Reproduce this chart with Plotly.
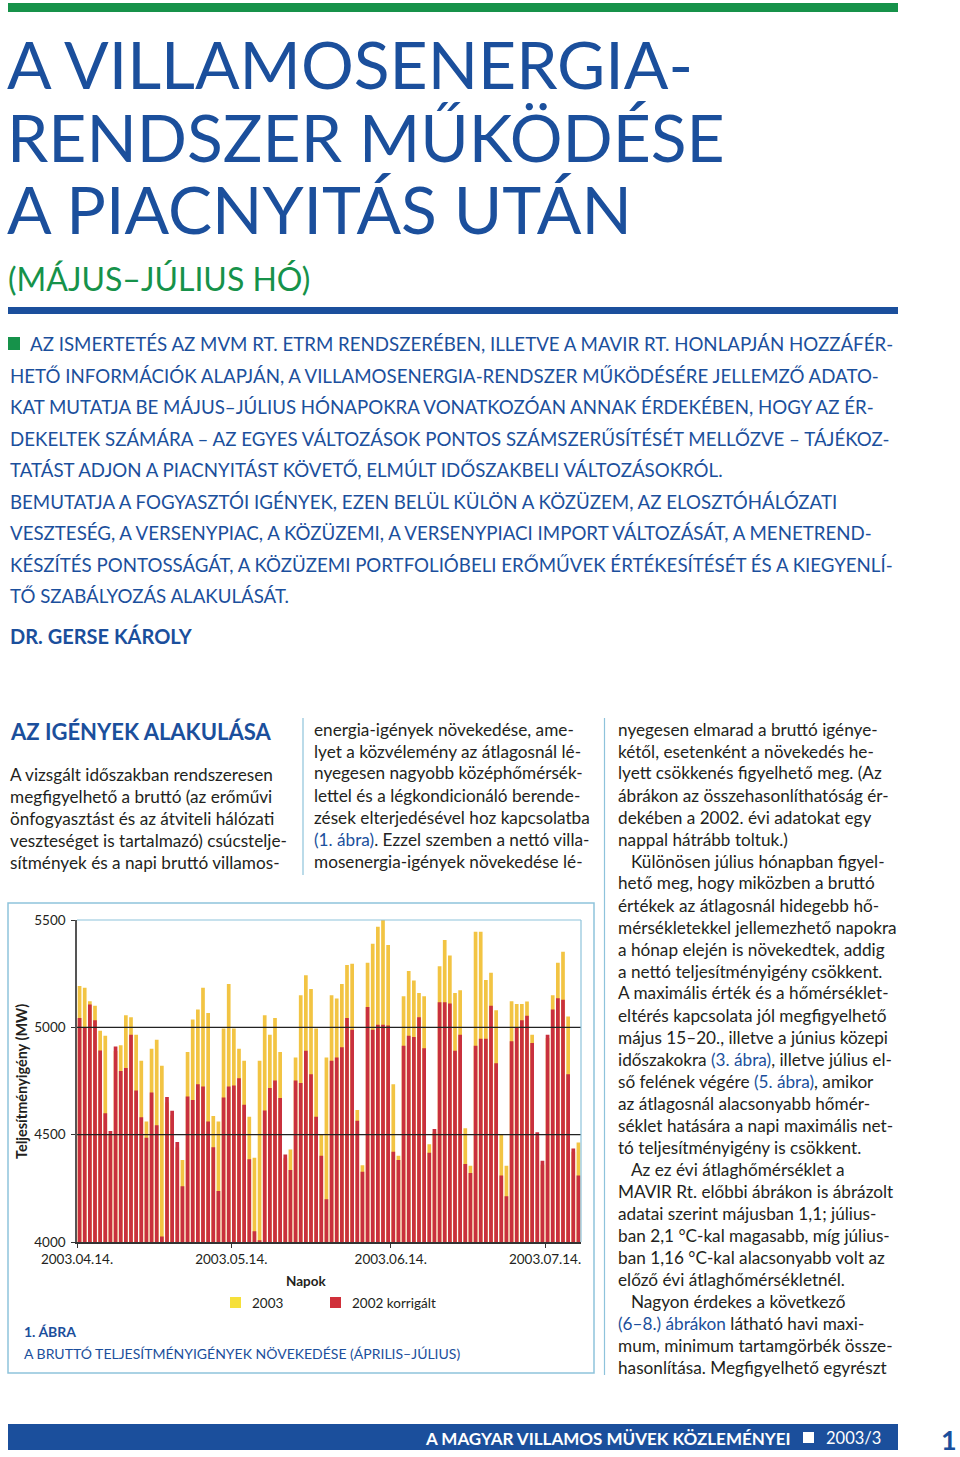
import pandas as pd
import plotly.graph_objects as go

# --- adatok (1. ábra) ---
kezdo_nap = "2003-04-14"
ev_2003 = [5192, 5184, 5121, 5101, 4984, 4961, 4500, 4890, 4917, 5056,
           5047, 4966, 4844, 4561, 4900, 4942, 4821, 4650, 4590, 4440,
           4382, 4885, 5036, 5083, 5184, 5067, 4587, 4561, 4994, 5202,
           4994, 4900, 4844, 4584, 4393, 4844, 5056, 4966, 5044, 4885,
           4390, 4431, 4860, 5150, 5243, 5179, 4994, 4498, 4860, 5150,
           5134, 5202, 5290, 5296, 4615, 4358, 5301, 5389, 5469, 5515,
           5383, 4735, 4402, 5145, 5262, 5218, 5160, 5145, 4455, 4510,
           5285, 5407, 5335, 5160, 5173, 4530, 4355, 5445, 5445, 5220,
           5254, 5079, 4498, 4355, 5121, 5109, 5109, 5120, 4966, 4490,
           4360, 4950, 5150, 5301, 5352, 5051, 4420, 4464]
ev_2002_korrigalt = [5044, 4997, 5106, 5033, 4892, 4600, 4517, 4911, 4797, 4810,
                     4966, 4706, 4581, 4486, 4696, 4544, 4026, 4676, 4611, 4466,
                     4260, 4678, 4662, 4735, 4724, 4561, 4441, 4237, 4673, 4724,
                     4729, 4763, 4639, 4386, 4050, 4008, 4612, 4717, 4752, 4671,
                     4408, 4335, 4752, 4741, 4891, 4782, 4584, 4402, 4199, 4844,
                     4860, 4907, 5044, 4989, 4565, 4327, 5095, 4989, 5012, 5012,
                     5008, 4421, 4382, 4914, 4961, 4955, 5047, 4903, 4416, 4526,
                     5117, 5117, 5111, 4891, 4966, 4363, 4322, 4914, 4947, 4947,
                     5101, 4833, 4310, 4213, 4935, 4997, 5033, 5054, 4927, 4511,
                     4378, 4966, 5083, 5135, 5129, 4782, 4436, 4310]
tick_datumok = ["2003-04-14", "2003-05-14", "2003-06-14", "2003-07-14"]
tick_cimkek = ["2003.04.14.", "2003.05.14.", "2003.06.14.", "2003.07.14."]
y_tickek = [4000, 4500, 5000, 5500]

W, H = 960, 1457
BLUE = "#1b4f9c"
GREEN = "#16924a"
TXT = "#231f20"
FRAME = "#8ec3db"
FONT = "Lato"
BODY = 17.2

napok = pd.date_range(kezdo_nap, periods=len(ev_2003)) + pd.Timedelta(hours=12)


def px(x):
    return x / W


def py(y):
    return 1 - y / H


annots = []


def txt(x, y, s, size, color=TXT, anchor="left", angle=0):
    annots.append(dict(x=px(x), y=py(y), xref="paper", yref="paper", text=s,
                       showarrow=False, xanchor=anchor, yanchor="middle",
                       textangle=angle,
                       font=dict(family=FONT, size=size, color=color)))


def blue(s):
    return f'<span style="color:{BLUE}">{s}</span>'


shapes = []


def rect(x0, y0, x1, y1, fill=None, line=None, lw=1.0):
    shapes.append(dict(type="rect", xref="paper", yref="paper",
                       x0=px(x0), x1=px(x1), y0=py(y0), y1=py(y1),
                       fillcolor=fill or "rgba(0,0,0,0)",
                       line=dict(color=line or "rgba(0,0,0,0)", width=lw if line else 0)))


def vline(x, y0, y1, color, lw=1.2):
    shapes.append(dict(type="line", xref="paper", yref="paper",
                       x0=px(x), x1=px(x), y0=py(y0), y1=py(y1),
                       line=dict(color=color, width=lw)))


# fejléc
rect(8, 3, 898, 12, fill=GREEN)
txt(5, 63, "A VILLAMOSENERGIA-", 66, BLUE)
txt(5, 136, "RENDSZER MŰKÖDÉSE", 66, BLUE)
txt(5, 209, "A PIACNYITÁS UTÁN", 66, BLUE)
txt(6, 278, "(MÁJUS–JÚLIUS HÓ)", 32, GREEN)
rect(8, 307, 898, 314, fill=BLUE)

# bevezető
rect(8, 337, 20, 350, fill=GREEN)
abstract = [
    "AZ ISMERTETÉS AZ MVM RT. ETRM RENDSZERÉBEN, ILLETVE A MAVIR RT. HONLAPJÁN HOZZÁFÉR-",
    "HETŐ INFORMÁCIÓK ALAPJÁN, A VILLAMOSENERGIA-RENDSZER MŰKÖDÉSÉRE JELLEMZŐ ADATO-",
    "KAT MUTATJA BE MÁJUS–JÚLIUS HÓNAPOKRA VONATKOZÓAN ANNAK ÉRDEKÉBEN, HOGY AZ ÉR-",
    "DEKELTEK SZÁMÁRA – AZ EGYES VÁLTOZÁSOK PONTOS SZÁMSZERŰSÍTÉSÉT MELLŐZVE – TÁJÉKOZ-",
    "TATÁST ADJON A PIACNYITÁST KÖVETŐ, ELMÚLT IDŐSZAKBELI VÁLTOZÁSOKRÓL.",
    "BEMUTATJA A FOGYASZTÓI IGÉNYEK, EZEN BELÜL KÜLÖN A KÖZÜZEM, AZ ELOSZTÓHÁLÓZATI",
    "VESZTESÉG, A VERSENYPIAC, A KÖZÜZEMI, A VERSENYPIACI IMPORT VÁLTOZÁSÁT, A MENETREND-",
    "KÉSZÍTÉS PONTOSSÁGÁT, A KÖZÜZEMI PORTFOLIÓBELI ERŐMŰVEK ÉRTÉKESÍTÉSÉT ÉS A KIEGYENLÍ-",
    "TŐ SZABÁLYOZÁS ALAKULÁSÁT.",
]
for i, line in enumerate(abstract):
    txt(28 if i == 0 else 8, 344 + i * 31.5, line, 18.7, BLUE)
txt(8, 636, "<b>DR. GERSE KÁROLY</b>", 20, BLUE)

# hasábok
txt(8, 731, "<b>AZ IGÉNYEK ALAKULÁSA</b>", 22, BLUE)
col1 = ["A vizsgált időszakban rendszeresen",
        "megfigyelhető a bruttó (az erőművi",
        "önfogyasztást és az átviteli hálózati",
        "veszteséget is tartalmazó) csúcstelje-",
        "sítmények és a napi bruttó villamos-"]
for i, line in enumerate(col1):
    txt(8, 774 + i * 22, line, BODY)

col2 = ["energia-igények növekedése, ame-",
        "lyet a közvélemény az átlagosnál lé-",
        "nyegesen nagyobb középhőmérsék-",
        "lettel és a légkondicionáló berende-",
        "zések elterjedésével hoz kapcsolatba",
        blue("(1. ábra)") + ". Ezzel szemben a nettó villa-",
        "mosenergia-igények növekedése lé-"]
for i, line in enumerate(col2):
    txt(312, 729 + i * 22, line, BODY)

col3 = ["nyegesen elmarad a bruttó igénye-",
        "kétől, esetenként a növekedés he-",
        "lyett csökkenés figyelhető meg. (Az",
        "ábrákon az összehasonlíthatóság ér-",
        "dekében a 2002. évi adatokat egy",
        "nappal hátrább toltuk.)",
        "\u2003Különösen július hónapban figyel-",
        "hető meg, hogy miközben a bruttó",
        "értékek az átlagosnál hidegebb hő-",
        "mérsékletekkel jellemezhető napokra",
        "a hónap elején is növekedtek, addig",
        "a nettó teljesítményigény csökkent.",
        "A maximális érték és a hőmérséklet-",
        "eltérés kapcsolata jól megfigyelhető",
        "május 15–20., illetve a június közepi",
        "időszakokra " + blue("(3. ábra)") + ", illetve július el-",
        "ső felének végére " + blue("(5. ábra)") + ", amikor",
        "az átlagosnál alacsonyabb hőmér-",
        "séklet hatására a napi maximális net-",
        "tó teljesítményigény is csökkent.",
        "\u2003Az ez évi átlaghőmérséklet a",
        "MAVIR Rt. előbbi ábrákon is ábrázolt",
        "adatai szerint májusban 1,1; július-",
        "ban 2,1 °C-kal magasabb, míg július-",
        "ban 1,16 °C-kal alacsonyabb volt az",
        "előző évi átlaghőmérsékletnél.",
        "\u2003Nagyon érdekes a következő",
        blue("(6–8.) ábrákon") + " látható havi maxi-",
        "mum, minimum tartamgörbék össze-",
        "hasonlítása. Megfigyelhető egyrészt"]
for i, line in enumerate(col3):
    txt(616, 729 + i * 22, line, BODY)

vline(604.5, 718, 1375, FRAME)
vline(303, 718, 875, FRAME)

# ábra kerete és feliratai
rect(8, 903, 594, 1373, line=FRAME, lw=1.5)
txt(21, 1082, "<b>Teljesítményigény (MW)</b>", 14.5, TXT, anchor="center", angle=-90)
txt(306, 1281, "<b>Napok</b>", 13.5, TXT, anchor="center")
rect(230, 1297, 241, 1308, fill="#f6e03a")
txt(250, 1303, "2003", 13.5)
rect(330, 1297, 341, 1308, fill="#d0303a")
txt(350, 1303, "2002 korrigált", 13.5)
txt(22, 1331, "<b>1. ÁBRA</b>", 14, BLUE)
txt(22, 1353, "A BRUTTÓ TELJESÍTMÉNYIGÉNYEK NÖVEKEDÉSE (ÁPRILIS–JÚLIUS)", 14, BLUE)

# lábléc
rect(8, 1424, 898, 1450, fill=BLUE)
txt(793, 1438, "<b>A MAGYAR VILLAMOS MÜVEK KÖZLEMÉNYEI</b>", 17, "white", anchor="right")
rect(803, 1432, 814, 1443, fill="white")
txt(824, 1438, "2003/3", 16.5, "white")
txt(949, 1439, "<b>1</b>", 27, BLUE, anchor="center")

fig = go.Figure()
fig.add_trace(go.Bar(x=napok, y=ev_2003, name="2003",
                     marker=dict(color="#f2c443", line=dict(width=0))))
fig.add_trace(go.Bar(x=napok, y=ev_2002_korrigalt, name="2002 korrigált",
                     marker=dict(color="#c9303e", line=dict(width=0))))

x0_px, x1_px = 77, 581
y_top, y_bot = 920, 1242

# rácsvonalak és a plot keret felső/jobb oldala
for v in (4500, 5000):
    shapes.append(dict(type="line", xref="x domain", yref="y", x0=0, x1=1,
                       y0=v, y1=v, line=dict(color="#222", width=1.3), layer="above"))
shapes.append(dict(type="line", xref="x domain", yref="y domain", x0=0, x1=1,
                   y0=1, y1=1, line=dict(color=FRAME, width=1.2), layer="above"))
shapes.append(dict(type="line", xref="x domain", yref="y domain", x0=1, x1=1,
                   y0=0, y1=1, line=dict(color=FRAME, width=1.2), layer="above"))

fig.update_layout(
    width=W, height=H,
    margin=dict(l=0, r=0, t=0, b=0, autoexpand=False),
    paper_bgcolor="white", plot_bgcolor="white",
    barmode="overlay", bargap=0.28,
    showlegend=False,
    font=dict(family=FONT, color=TXT),
    annotations=annots,
    shapes=shapes,
    xaxis=dict(domain=[px(x0_px), px(x1_px)], type="date", automargin=False,
               range=[kezdo_nap, napok[-1] + pd.Timedelta(hours=12)],
               tickvals=tick_datumok, ticktext=tick_cimkek,
               ticks="outside", ticklen=4, tickcolor="#333",
               showline=True, linecolor="#333", linewidth=1.5,
               showgrid=False, zeroline=False,
               tickfont=dict(family=FONT, size=13.5, color=TXT)),
    yaxis=dict(domain=[py(y_bot), py(y_top)], range=[4000, 5500], automargin=False,
               tickvals=y_tickek, ticks="outside", ticklen=4, tickcolor="#333",
               showline=True, linecolor="#555", linewidth=1.5,
               showgrid=False, zeroline=False, ticklabelstandoff=3,
               tickfont=dict(family=FONT, size=13.5, color=TXT)),
)

# a böngésző alapértelmezett 8 px-es body margója eltolná az oldalt
fig.write_html("out.html", config={"displayModeBar": False},
               post_script="document.body.style.margin='0';")
